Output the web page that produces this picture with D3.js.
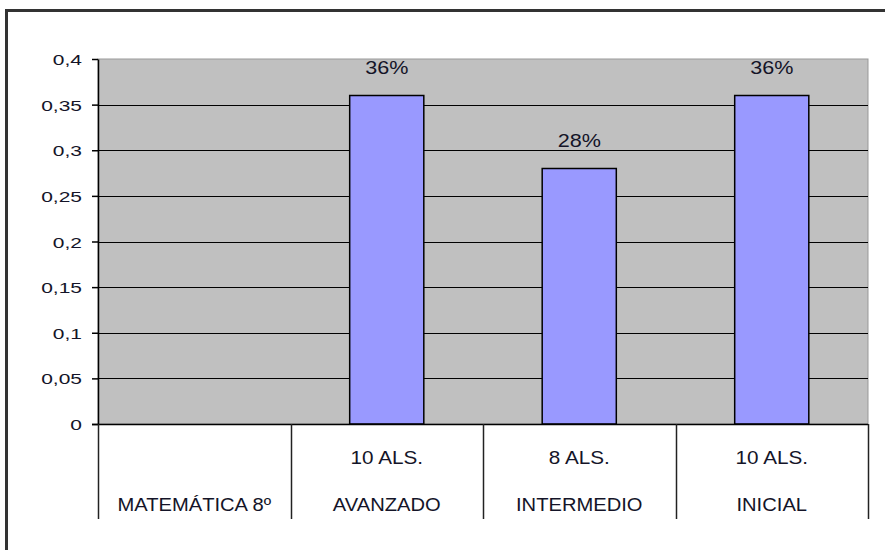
<!DOCTYPE html>
<html>
<head>
<meta charset="utf-8">
<script src="https://cdn.jsdelivr.net/npm/d3@7"></script>
<style>
  body { margin: 0; background: #fff; }
  text { font-family: "Liberation Sans", Arial, sans-serif; fill: #141428; }
</style>
</head>
<body>
<div id="chart"></div>
<script>
var categories = ["MATEMÁTICA 8º", "AVANZADO", "INTERMEDIO", "INICIAL"];
var counts = ["", "10 ALS.", "8 ALS.", "10 ALS."];
var values = [null, 0.36, 0.28, 0.36];
var yTicks = [0, 0.05, 0.1, 0.15, 0.2, 0.25, 0.3, 0.35, 0.4];

var W = 885, H = 550;
var margin = {top: 59, left: 98, right: 17, bottom: 126};
var width = W - margin.left - margin.right,
    height = H - margin.top - margin.bottom;

var svg = d3.select("#chart").append("svg")
    .attr("width", W).attr("height", H);

// outer frame (clipped at right and bottom)
svg.append("path")
    .attr("d", "M6.5," + H + "V10.5H" + W)
    .attr("fill", "none").attr("stroke", "#333").attr("stroke-width", 3);

var g = svg.append("g")
    .attr("transform", "translate(" + margin.left + "," + margin.top + ")");

var x = d3.scaleBand().domain(categories).range([0, width]);
var y = d3.scaleLinear().domain([0, 0.4]).range([height, 0]);

// stretched text, like the original picture
function wide(sel, sx) {
  sel.attr("transform", function() {
    var t = d3.select(this);
    return "translate(" + t.attr("x") + "," + t.attr("y") + ") scale(" + sx + ",1)";
  }).attr("x", 0).attr("y", 0);
}

g.append("rect")
    .attr("width", width).attr("height", height)
    .attr("fill", "#c0c0c0").attr("stroke", "#999");

g.selectAll(".grid").data(yTicks.slice(1, -1)).enter().append("line")
    .attr("x1", 0).attr("x2", width)
    .attr("y1", function(d) { return Math.round(y(d)) + 0.5; })
    .attr("y2", function(d) { return Math.round(y(d)) + 0.5; })
    .attr("stroke", "#000");

var fmt = function(d) { return String(d).replace(".", ","); };
var yAxis = g.append("g")
    .call(d3.axisLeft(y).tickValues(yTicks).tickFormat(fmt).tickSize(6).tickSizeOuter(0));
yAxis.select(".domain").attr("stroke", "#000").attr("stroke-width", 1.5);
yAxis.selectAll("line").attr("stroke", "#000").attr("stroke-width", 1.5);
yAxis.selectAll("text")
    .style("font-size", "15px").attr("fill", "#141428").attr("dy", null)
    .attr("x", -16).attr("y", 5.5)
    .call(wide, 1.4);

var bw = x.bandwidth() * 0.385;
var bars = categories.map(function(c, i) { return {c: c, v: values[i]}; })
    .filter(function(d) { return d.v != null; });

g.selectAll(".bar").data(bars).enter().append("rect")
    .attr("x", function(d) { return x(d.c) + x.bandwidth() / 2 - bw / 2; })
    .attr("y", function(d) { return y(d.v); })
    .attr("width", bw)
    .attr("height", function(d) { return height - y(d.v); })
    .attr("fill", "#9999ff").attr("stroke", "#000").attr("stroke-width", 1.5);

g.selectAll(".lbl").data(bars).enter().append("text")
    .attr("x", function(d) { return x(d.c) + x.bandwidth() / 2; })
    .attr("y", function(d) { return y(d.v) - 22; })
    .attr("text-anchor", "middle").style("font-size", "18px")
    .text(function(d) { return Math.round(d.v * 100) + "%"; })
    .call(wide, 1.2);

// x axis baseline and category table
g.append("line").attr("x1", -6).attr("x2", width)
    .attr("y1", height + 0.5).attr("y2", height + 0.5).attr("stroke", "#000").attr("stroke-width", 1.5);

var seps = categories.map(function(c) { return x(c); }).concat([width]);
g.selectAll(".sep").data(seps).enter().append("line")
    .attr("x1", function(d) { return Math.round(d) + 0.5; })
    .attr("x2", function(d) { return Math.round(d) + 0.5; })
    .attr("y1", height).attr("y2", height + 95)
    .attr("stroke", "#222").attr("stroke-width", 1.5);

g.selectAll(".cnt").data(categories).enter().append("text")
    .attr("x", function(d) { return x(d) + x.bandwidth() / 2; })
    .attr("y", height + 40)
    .attr("text-anchor", "middle").style("font-size", "18px")
    .text(function(d, i) { return counts[i]; })
    .call(wide, 1.15);

g.selectAll(".cat").data(categories).enter().append("text")
    .attr("x", function(d) { return x(d) + x.bandwidth() / 2; })
    .attr("y", height + 87)
    .attr("text-anchor", "middle").style("font-size", "18px")
    .text(function(d) { return d; })
    .call(wide, 1.12);
</script>
</body>
</html>
